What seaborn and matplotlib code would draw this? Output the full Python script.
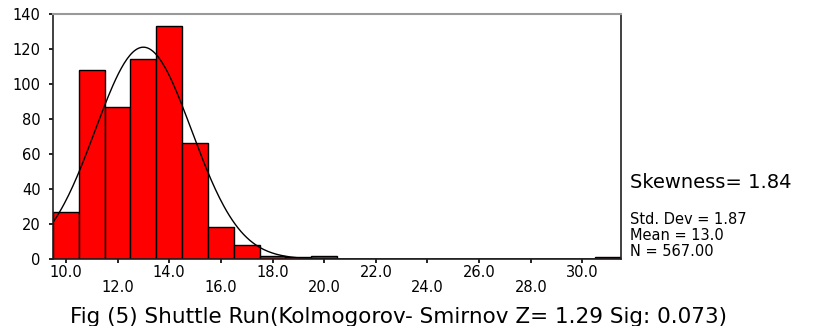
import numpy as np
import pandas as pd
import seaborn as sns
import matplotlib.pyplot as plt

# histogram counts per bin (bins of width 1, centred on integers)
bin_centers = [10, 11, 12, 13, 14, 15, 16, 17, 18, 19, 20, 21, 22, 23, 24,
               25, 26, 27, 28, 29, 30, 31]
counts = [27, 108, 87, 114, 133, 66, 18, 8, 2, 1, 2, 0, 0, 0, 0,
          0, 0, 0, 0, 0, 0, 1]

mean_val = 13.0
std_val = 1.87
n_val = 567
skew_val = 1.84

x_ticks = [10, 12, 14, 16, 18, 20, 22, 24, 26, 28, 30]
x_labels = ["10.0", "12.0", "14.0", "16.0", "18.0", "20.0",
            "22.0", "24.0", "26.0", "28.0", "30.0"]
y_ticks = [0, 20, 40, 60, 80, 100, 120, 140]

caption = "Fig (5) Shuttle Run(Kolmogorov- Smirnov Z= 1.29 Sig: 0.073)"

sns.set_style("white")
plt.rcParams['font.family'] = ['DejaVu Sans']
plt.rcParams['text.color'] = 'black'

df = pd.DataFrame({'value': bin_centers, 'count': counts})

fig = plt.figure(figsize=(8.14, 3.26), dpi=100)
ax = fig.add_axes([0.0651, 0.2055, 0.698, 0.752])

# bins of width 1 starting at 9.5
sns.histplot(data=df, x='value', weights='count', binwidth=1, binrange=(9.5, 31.5),
             color='#ff0000', edgecolor='black', linewidth=1.0,
             alpha=1.0, ax=ax)

# fitted normal curve
xs = np.linspace(9.5, 31.5, 400)
ys = n_val * 1.0 / (std_val * np.sqrt(2 * np.pi)) * np.exp(-0.5 * ((xs - mean_val) / std_val) ** 2)
sns.lineplot(x=xs, y=ys, color='black', linewidth=1.0, ax=ax)

ax.set_xlim(9.5, 31.5)
ax.set_ylim(0, 140)
ax.set_xticks(x_ticks)
ax.set_xticklabels(x_labels, fontsize=10.5)
ax.set_yticks(y_ticks)
ax.set_yticklabels([str(v) for v in y_ticks], fontsize=10.5)
ax.tick_params(axis='both', bottom=True, left=True, direction='out', length=3,
               width=1.2, color='black', labelcolor='black')
ax.tick_params(axis='y', pad=6)
# staggered x labels: every other one on a second row
for i, tk in enumerate(ax.xaxis.get_major_ticks()):
    tk.set_pad(1.5 if i % 2 == 0 else 12)
ax.set_xlabel('')
ax.set_ylabel('')

for side in ['left', 'bottom', 'right']:
    ax.spines[side].set_color('#202020')
    ax.spines[side].set_linewidth(1.2)
ax.spines['top'].set_color('#999999')
ax.spines['top'].set_linewidth(1.5)

fig.text(0.774, 0.423, "Skewness= %.2f" % skew_val, fontsize=14, va='baseline')
fig.text(0.774, 0.313, "Std. Dev = %.2f" % std_val, fontsize=10.5, va='baseline')
fig.text(0.774, 0.264, "Mean = %.1f" % mean_val, fontsize=10.5, va='baseline')
fig.text(0.774, 0.215, "N = %.2f" % n_val, fontsize=10.5, va='baseline')

fig.text(0.489, 0.0095, caption, fontsize=15.5, ha='center', va='baseline')

fig.savefig('out.png', dpi=100)
